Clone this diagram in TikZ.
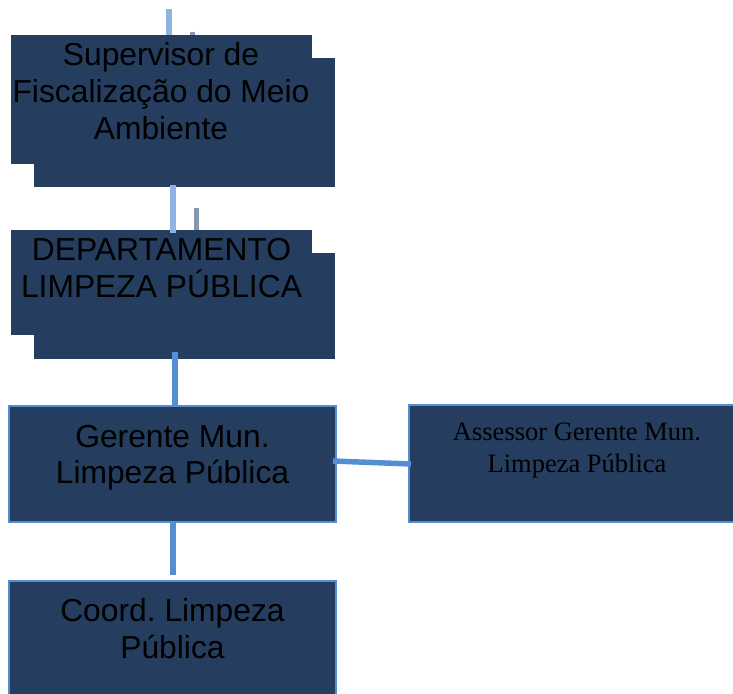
\documentclass[tikz,border=0pt]{standalone}
\usepackage{fontspec}
\setmainfont{Liberation Serif}
\newfontfamily\arialf{Liberation Sans}
\frenchspacing
\definecolor{boxfill}{RGB}{37,61,94}
\definecolor{boxline}{RGB}{85,142,213}
\definecolor{lightln}{RGB}{141,180,226}
\definecolor{greyln}{RGB}{135,152,174}
\tikzset{
  panel/.style={fill=boxfill, inner sep=0pt, outer sep=0pt},
  framed/.style={panel, draw=boxline, line width=2pt},
  sanslbl/.style={align=center, inner sep=0pt, text=black, font=\arialf\frenchspacing\fontsize{31.8}{36.6}\selectfont},
  seriflbl/.style={align=center, inner sep=0pt, text=black, font=\frenchspacing\fontsize{26.5}{31.6}\selectfont},
  lightconn/.style={draw=lightln, line width=5.5pt},
  greyconn/.style={draw=greyln, line width=5pt},
  blueconn/.style={draw=boxline, line width=5.5pt},
}
\begin{document}
\begin{tikzpicture}[x=1pt,y=-1pt]
\useasboundingbox (0,0) rectangle (733,693);
\clip (0,0) rectangle (733,693);
% back panels
\node[panel, minimum width=301pt, minimum height=128.7pt] (supb) at (184.5,122.35) {};
\node[panel, minimum width=301pt, minimum height=105.7pt] (depb) at (184.5,305.85) {};
% grey connectors (behind front panels)
\coordinate (g1) at (192,32);
\coordinate (g2) at (196,208);
\draw[greyconn] (g1) -- (g1 |- supb.north);
\draw[greyconn] (g2) -- (g2 |- depb.north);
% front panels
\node[panel, minimum width=301pt, minimum height=128.5pt] (sup) at (161.5,99.25) {};
\node[panel, minimum width=301pt, minimum height=105pt] (dep) at (161.5,282.5) {};
% framed boxes
\node[framed, minimum width=326.7pt, minimum height=116.3pt] (ger) at (172.35,463.85) {};
\node[framed, minimum width=337.3pt, minimum height=116.5pt] (ass) at (577.35,463.45) {};
\node[framed, minimum width=326.7pt, minimum height=139pt] (coo) at (172.35,650.5) {};
% connectors
\coordinate (l1) at (169,9.3);
\draw[lightconn] (l1) -- (l1 |- sup.north);
\coordinate (l2) at (173,185);
\coordinate (l2e) at (173,232.7);
\draw[lightconn] (l2) -- (l2e);
\coordinate (b1) at (175,351.7);
\draw[blueconn] (b1) -- (b1 |- ger.north);
\coordinate (b2) at (173,523);
\coordinate (b2e) at (173,574.5);
\draw[blueconn] (b2) -- (b2e);
\coordinate (h1) at (333,461);
\coordinate (h2) at (411,464);
\draw[blueconn] (h1) -- (h2);
% labels
\node[sanslbl] (supt) at (161,91.1) {Supervisor de\\Fiscalização do Meio\\Ambiente};
\node[sanslbl] (dept) at (161.5,268.1) {DEPARTAMENTO\\LIMPEZA PÚBLICA};
\node[sanslbl] (gert) at (172.5,457.8) {Gerente Mun.\\Limpeza Pública};
\node[seriflbl] (asst) at (577,450.7) {Assessor Gerente Mun.\\Limpeza Pública};
\node[sanslbl] (coot) at (172.5,628.9) {Coord. Limpeza\\Pública};
\end{tikzpicture}
\end{document}
